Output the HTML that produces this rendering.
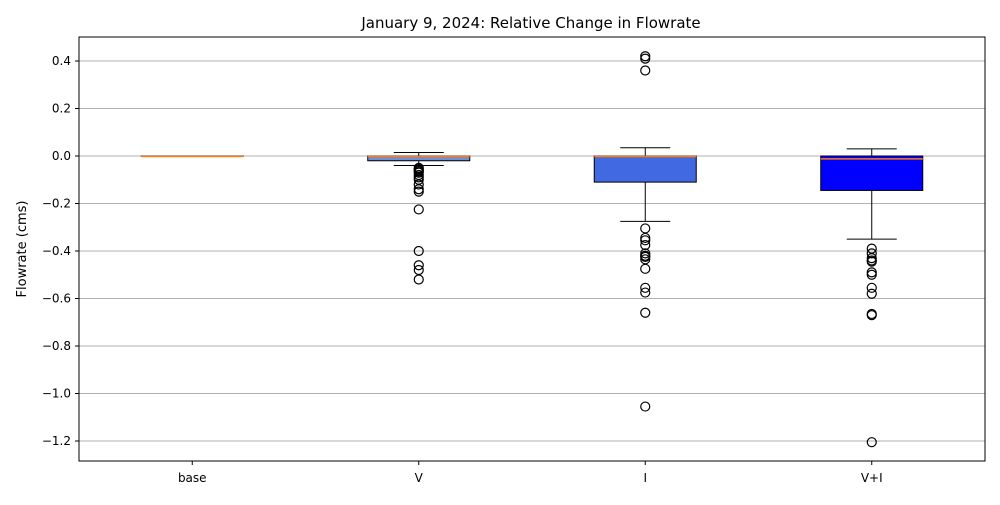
<!DOCTYPE html>
<html><head><meta charset="utf-8"><style>
body{margin:0;background:#fff;font-family:"Liberation Sans","DejaVu Sans",sans-serif}
svg text{font-family:"DejaVu Sans","Liberation Sans",sans-serif}
</style></head><body>
<svg id="c" width="1000" height="500"></svg>
<script>
const categories=["base","V","I","V+I"];
const whiskerLow=[0,-0.04,-0.275,-0.35];
const q1=[0,-0.02,-0.11,-0.145];
const medians=[0,0,0,-0.01];
const q3=[0,0,0,0];
const whiskerHigh=[0,0.015,0.035,0.03];
const outliersV=[-0.05,-0.055,-0.06,-0.065,-0.07,-0.08,-0.09,-0.1,-0.12,-0.14,-0.15,-0.225,-0.40,-0.46,-0.48,-0.52];
const outliersI=[0.36,0.41,0.42,-0.305,-0.345,-0.355,-0.375,-0.41,-0.42,-0.425,-0.435,-0.475,-0.555,-0.575,-0.66,-1.055];
const outliersVI=[-0.39,-0.41,-0.43,-0.44,-0.445,-0.49,-0.5,-0.555,-0.58,-0.665,-0.67,-1.205];
const outliers=[[],outliersV,outliersI,outliersVI];
const fills=["#ffffff","#6f8fd8","royalblue","blue"];
const yTicks=[0.4,0.2,0,-0.2,-0.4,-0.6,-0.8,-1.0,-1.2];
const L=79,R=985,T=37,B=461;
const y=v=>156-v*237.5;
const x=i=>L+(i+0.5)*(R-L)/4;
const NS="http://www.w3.org/2000/svg";
const svg=document.getElementById('c');
function el(t,a,p){const e=document.createElementNS(NS,t);for(const k in a)e.setAttribute(k,a[k]);(p||svg).appendChild(e);return e;}
let t=el('text',{x:531,y:28,'font-size':15,'text-anchor':'middle'});t.textContent="January 9, 2024: Relative Change in Flowrate";


yTicks.forEach(v=>{
 const g=el('line',{x1:L,x2:R,y1:y(v),y2:y(v),stroke:'#b0b0b0','stroke-width':1});
 
 
 el('line',{x1:L-4,x2:L,y1:y(v),y2:y(v),stroke:'#000'});
 const tx=el('text',{x:L-8,y:y(v)+4,'font-size':12,'text-anchor':'end'});
 tx.textContent=(v<0?'\u2212':'')+Math.abs(v).toFixed(1);
 
 
});
let yt=el('text',{transform:'translate(26,249) rotate(-90)','font-size':13,'text-anchor':'middle'});yt.textContent="Flowrate (cms)";


categories.forEach((c,i)=>{
 const cx=x(i);
 const g=el('g',{});
 
 
 el('line',{x1:cx,x2:cx,y1:y(q3[i]),y2:y(whiskerHigh[i]),stroke:'#000'},g);
 el('line',{x1:cx,x2:cx,y1:y(q1[i]),y2:y(whiskerLow[i]),stroke:'#000'},g);
 el('line',{x1:cx-25,x2:cx+25,y1:y(whiskerHigh[i]),y2:y(whiskerHigh[i]),stroke:'#000'},g);
 el('line',{x1:cx-25,x2:cx+25,y1:y(whiskerLow[i]),y2:y(whiskerLow[i]),stroke:'#000'},g);
 el('rect',{x:cx-51,y:y(q3[i]),width:102,height:Math.max(0.01,y(q1[i])-y(q3[i])),fill:fills[i],stroke:'#000','stroke-width':1},g);
 el('line',{x1:cx-51,x2:cx+51,y1:y(medians[i])+0.5,y2:y(medians[i])+0.5,stroke:'#ff7f0e','stroke-width':1.5},g);
 outliers[i].forEach(v=>{
  const o=el('circle',{cx:cx,cy:y(v),r:4.5,fill:'none',stroke:'#000','stroke-width':1.2});
  
  
 });
 el('line',{x1:cx,x2:cx,y1:B,y2:B+4,stroke:'#000'});
 const tx=el('text',{x:cx,y:B+21,'font-size':12,'text-anchor':'middle'});tx.textContent=c;
 
 
});
const fr=el('rect',{x:L,y:T,width:R-L,height:B-T,fill:'none',stroke:'#000','stroke-width':1});


</script>
</body></html>
